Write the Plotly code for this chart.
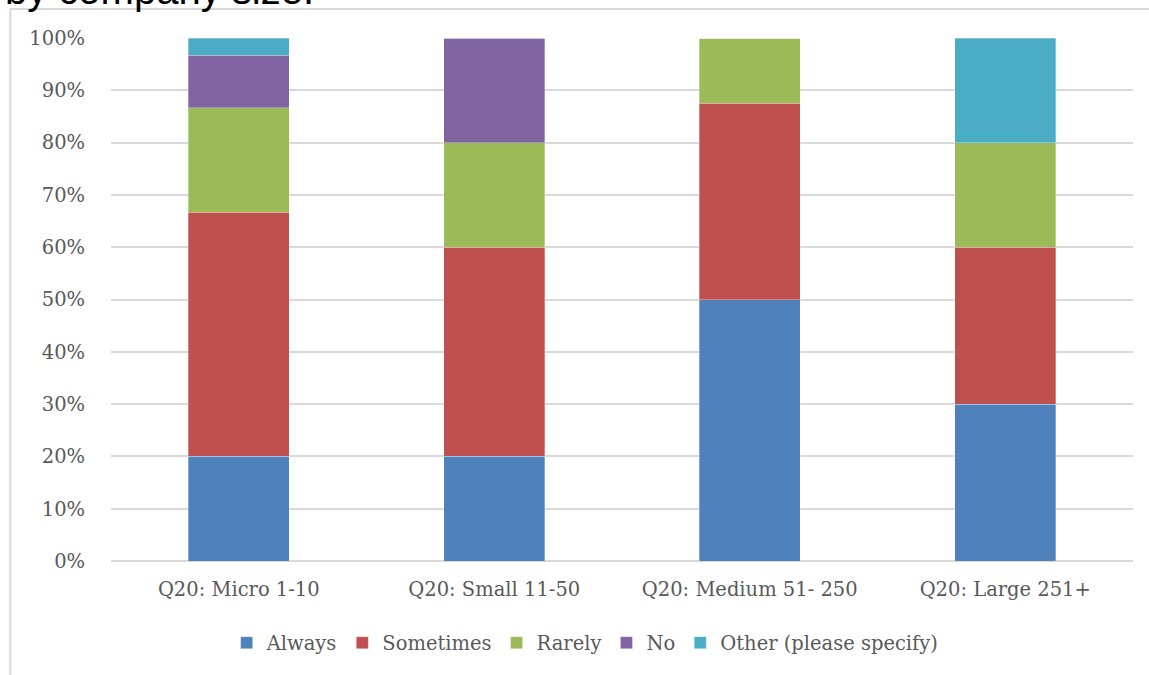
import plotly.graph_objects as go

# Company-size groups and share of responses (%) per answer
categories = ["Q20: Micro 1-10", "Q20: Small 11-50", "Q20: Medium 51- 250", "Q20: Large 251+"]
always = [20.0, 20.0, 50.0, 30.0]
sometimes = [46.67, 40.0, 37.5, 30.0]
rarely = [20.0, 20.0, 12.5, 20.0]
no = [10.0, 20.0, 0.0, 0.0]
other = [3.33, 0.0, 0.0, 20.0]

series = [
    ("Always", always, "#4F81BD"),
    ("Sometimes", sometimes, "#C0504D"),
    ("Rarely", rarely, "#9BBB59"),
    ("No", no, "#8064A2"),
    ("Other (please specify)", other, "#4BACC6"),
]

fig = go.Figure()
for name, vals, color in series:
    fig.add_trace(go.Bar(
        x=categories, y=vals, name=name,
        marker=dict(color=color, line=dict(color="rgba(255,255,255,0.5)", width=0.6)),
    ))

W, H = 1149, 675
L, R, T, B = 110.75, 16, 38, 114
pw = W - L - R
ph = H - T - B


def px(x):
    return (x - L) / pw


def py(y):
    return (H - B - y) / ph


tick_font = dict(family="DejaVu Serif", size=19.5, color="#595959")

fig.update_layout(
    width=W, height=H,
    barmode="stack",
    bargap=0.604,
    plot_bgcolor="white",
    paper_bgcolor="white",
    margin=dict(l=L, r=R, t=T, b=B, pad=0),
    showlegend=True,
    legend=dict(
        orientation="h", x=px(585), xanchor="center", y=py(643), yanchor="middle",
        font=tick_font, traceorder="normal", itemwidth=30,
        bgcolor="rgba(0,0,0,0)",
    ),
    xaxis=dict(
        tickfont=tick_font, showgrid=False, showline=False, zeroline=False,
        ticks="outside", ticklen=11, tickcolor="rgba(0,0,0,0)",
    ),
    yaxis=dict(
        range=[0, 100], dtick=10, ticksuffix="%", tickfont=tick_font,
        showgrid=True, gridcolor="#D9D9D9", gridwidth=1.5,
        zeroline=True, zerolinecolor="#D9D9D9", zerolinewidth=1.5,
        showline=False, ticks="outside", ticklen=21, tickcolor="rgba(0,0,0,0)",
    ),
    shapes=[
        dict(type="line", xref="paper", yref="paper",
             x0=px(10), x1=px(10), y0=py(9), y1=py(680),
             line=dict(color="#D9D9D9", width=2)),
        dict(type="line", xref="paper", yref="paper",
             x0=px(10), x1=px(1160), y0=py(9), y1=py(9),
             line=dict(color="#D9D9D9", width=2)),
    ],
    annotations=[
        dict(text="by company size.", xref="paper", yref="paper",
             x=px(3), y=py(14), xanchor="left", yanchor="bottom",
             showarrow=False,
             font=dict(family="Liberation Sans", size=40, color="#000000")),
    ],
)

fig.write_html("out.html")
